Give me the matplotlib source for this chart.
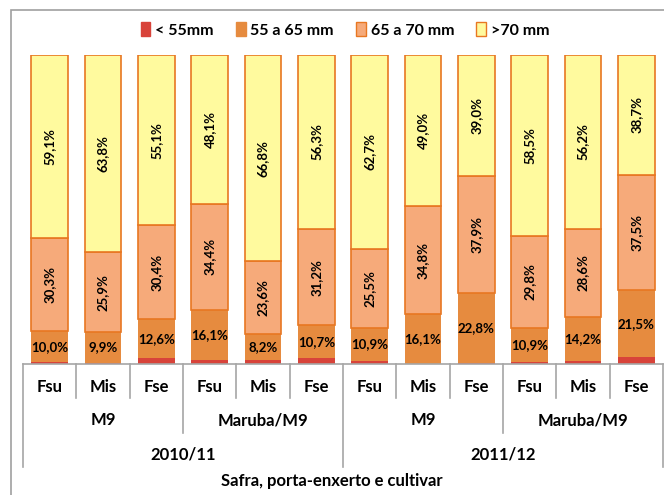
import matplotlib.pyplot as plt
import matplotlib.transforms as mtransforms
from matplotlib.patches import Rectangle

# dados
cultivares = ["Fsu", "Mis", "Fse"] * 4
porta_enxertos = ["M9", "Maruba/M9", "M9", "Maruba/M9"]
safras = ["2010/11", "2011/12"]

menor55 = [0.6, 0.4, 1.9, 1.4, 1.4, 1.8, 0.9, 0.1, 0.3, 0.8, 1.0, 2.3]
de55a65 = [10.0, 9.9, 12.6, 16.1, 8.2, 10.7, 10.9, 16.1, 22.8, 10.9, 14.2, 21.5]
de65a70 = [30.3, 25.9, 30.4, 34.4, 23.6, 31.2, 25.5, 34.8, 37.9, 29.8, 28.6, 37.5]
maior70 = [59.1, 63.8, 55.1, 48.1, 66.8, 56.3, 62.7, 49.0, 39.0, 58.5, 56.2, 38.7]

series = ["< 55mm", "55 a 65 mm", "65 a 70 mm", ">70 mm"]

plt.rcParams['font.family'] = ['Lato', 'DejaVu Sans']
plt.rcParams['font.weight'] = 'bold'

W, H = 664, 495
fig = plt.figure(figsize=(W / 100, H / 100), dpi=100)

def fy(px):
    return 1 - px / H

ax = fig.add_axes([23 / W, fy(364), (663 - 23) / W, (364 - 55) / H])

x = list(range(len(cultivares)))
larg = 0.69
cor_vermelho = '#D8433A'
cor_laranja = '#E68B3F'
cor_salmao = '#F6AA7A'
cor_amarelo = '#FFFA9E'
borda = '#E87722'

base = [0] * len(x)
ax.bar(x, menor55, larg, bottom=base, color=cor_vermelho, linewidth=0)
base = [b + v for b, v in zip(base, menor55)]
ax.bar(x, de55a65, larg, bottom=base, color=cor_laranja, linewidth=0)
for i in x:
    ax.text(i, base[i] + de55a65[i] / 2, f"{de55a65[i]:.1f}%".replace('.', ','),
            ha='center', va='center', fontsize=9.5, fontweight='bold')
base = [b + v for b, v in zip(base, de55a65)]
ax.bar(x, de65a70, larg, bottom=base, color=cor_salmao, edgecolor=borda, linewidth=1.2)
for i in x:
    ax.text(i, base[i] + de65a70[i] / 2, f"{de65a70[i]:.1f}%".replace('.', ','),
            ha='center', va='center', rotation=90, fontsize=9.5, fontweight='bold')
base = [b + v for b, v in zip(base, de65a70)]
ax.bar(x, maior70, larg, bottom=base, color=cor_amarelo, edgecolor=borda, linewidth=1.2)
for i in x:
    ax.text(i, base[i] + maior70[i] / 2, f"{maior70[i]:.1f}%".replace('.', ','),
            ha='center', va='center', rotation=90, fontsize=9.5, fontweight='bold')

ax.set_xlim(-0.5, 11.5)
ax.set_ylim(0, 100)
for s in ['top', 'right', 'left']:
    ax.spines[s].set_visible(False)
ax.spines['bottom'].set_color('#A6A6A6')
ax.spines['bottom'].set_linewidth(1.2)
ax.set_xticks([])
ax.set_yticks([])

# eixo x hierarquico
tr = mtransforms.blended_transform_factory(ax.transData, fig.transFigure)
linha = dict(color='#A6A6A6', linewidth=1.2, clip_on=False, transform=tr)
for k in range(13):
    xs = k - 0.5
    if k % 6 == 0:
        fim = 467
    elif k % 3 == 0:
        fim = 433
    else:
        fim = 398
    ax.plot([xs, xs], [fy(364), fy(fim)], **linha)

for i, c in enumerate(cultivares):
    ax.text(i, fy(387), c, transform=tr, ha='center', va='center', fontsize=12, fontweight='bold')
for j, p in enumerate(porta_enxertos):
    ax.text(3 * j + 1, fy(420), p, transform=tr, ha='center', va='center', fontsize=12, fontweight='bold')
for j, s in enumerate(safras):
    ax.text(6 * j + 2.5, fy(454), s, transform=tr, ha='center', va='center', fontsize=12, fontweight='bold')
fig.text(332 / W, fy(481), "Safra, porta-enxerto e cultivar", ha='center', va='center',
         fontsize=12, fontweight='bold')

# borda externa
fig.patches.append(Rectangle((11 / W, -0.1), 1.0, fy(10) + 0.1, transform=fig.transFigure,
                             fill=False, edgecolor='#A0A0A0', linewidth=1.2))

# legenda
handles = [
    Rectangle((0, 0), 1, 1, facecolor=cor_vermelho, edgecolor=cor_vermelho),
    Rectangle((0, 0), 1, 1, facecolor=cor_laranja, edgecolor=cor_laranja),
    Rectangle((0, 0), 1, 1, facecolor=cor_salmao, edgecolor=borda),
    Rectangle((0, 0), 1, 1, facecolor=cor_amarelo, edgecolor=borda),
]
fig.legend(handles, series, loc='center', bbox_to_anchor=(345 / W, fy(30)), ncol=4,
           frameon=False, handlelength=0.6, handleheight=0.9, handletextpad=0.3,
           columnspacing=1.4, prop={'size': 11.5, 'weight': 'bold'})

fig.savefig('out.png', dpi=100)
